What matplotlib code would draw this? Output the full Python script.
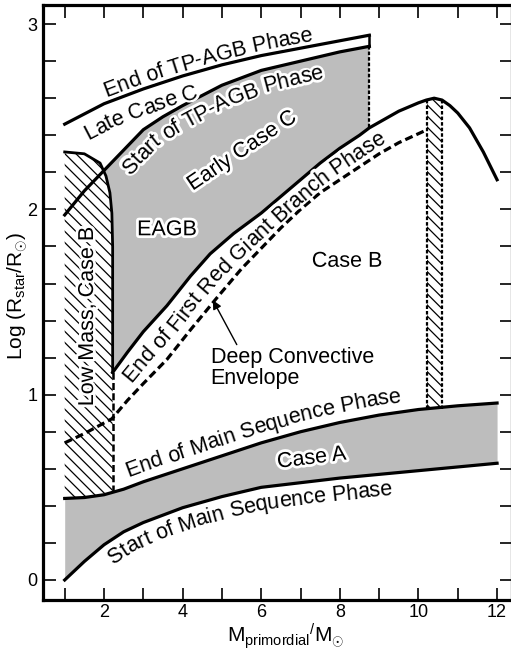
import numpy as np
import matplotlib.pyplot as plt
import matplotlib.patheffects as pe
from matplotlib.font_manager import FontProperties

plt.rcParams['font.family'] = ['Liberation Sans', 'DejaVu Sans']
plt.rcParams['mathtext.fontset'] = 'custom'
plt.rcParams['mathtext.rm'] = 'Liberation Sans'
plt.rcParams['mathtext.it'] = 'Liberation Sans:italic'
plt.rcParams['hatch.linewidth'] = 0.9

# --- curves (x = M/Msun, y = log R/Rsun) ---
tp_end_x = [1.0, 2.0, 3.0, 4.0, 5.0, 6.0, 7.0, 8.0, 8.75]
tp_end_y = [2.46, 2.57, 2.65, 2.72, 2.78, 2.83, 2.87, 2.91, 2.94]

tp_start_x = [1.0, 1.5, 2.0, 2.5, 3.0, 3.5, 4.0, 5.0, 6.0, 7.0, 8.0, 8.75]
tp_start_y = [1.97, 2.10, 2.21, 2.32, 2.43, 2.50, 2.56, 2.67, 2.75, 2.80, 2.85, 2.88]

# end of first red giant branch
rgb_x = [2.22, 2.6, 3.0, 3.6, 4.2, 4.7, 5.3, 6.0, 6.5, 7.0, 7.5, 8.0, 8.5, 8.75,
         9.0, 9.5, 10.0, 10.2, 10.4, 10.6, 10.8, 11.0, 11.3, 11.65, 12.0]
rgb_y = [1.12, 1.23, 1.34, 1.48, 1.64, 1.76, 1.87, 1.98, 2.07, 2.16, 2.25, 2.33, 2.40, 2.44,
         2.47, 2.53, 2.575, 2.59, 2.60, 2.59, 2.56, 2.52, 2.44, 2.31, 2.16]

# deep convective envelope (dashed)
dce_x = [1.0, 1.5, 2.2, 2.6, 3.0, 3.6, 4.2, 4.9, 5.5, 6.0, 6.5, 7.0, 7.5, 8.0, 8.5, 9.0, 9.5, 10.22]
dce_y = [0.74, 0.79, 0.87, 0.97, 1.06, 1.19, 1.35, 1.53, 1.68, 1.79, 1.90, 2.00, 2.09, 2.16, 2.23, 2.30, 2.36, 2.43]

# boundary of the low mass case B region
lm_x = [1.0, 1.5, 1.9, 2.05, 2.15, 2.2, 2.22, 2.22]
lm_y = [2.31, 2.30, 2.25, 2.18, 2.09, 1.98, 1.80, 1.12]

# main sequence
ms_x = [1.0, 1.5, 2.0, 2.5, 3.0, 4.0, 5.0, 6.0, 7.0, 8.0, 9.0, 10.0, 11.0, 12.0]
ms_end_y = [0.44, 0.445, 0.46, 0.49, 0.53, 0.60, 0.67, 0.74, 0.80, 0.85, 0.89, 0.92, 0.94, 0.955]
ms_start_y = [0.0, 0.10, 0.19, 0.26, 0.31, 0.39, 0.45, 0.50, 0.525, 0.55, 0.57, 0.59, 0.61, 0.63]

# hatched band near 10.4 Msun
band_x = [10.22, 10.6]
band_top = 2.59

shade = '#bdbdbd'
lw = 2.3
fs = 15.5
halo = [pe.withStroke(linewidth=4, foreground='white')]

fig = plt.figure(figsize=(5.11, 6.5), dpi=100)
ax = fig.add_axes([43 / 511, 50 / 650, 469 / 511, 595 / 650])
ax.set_xlim(0.448, 12.38)
ax.set_ylim(-0.108, 3.103)

# Case A shading
ax.fill_between(ms_x, ms_start_y, ms_end_y, color=shade, lw=0, zorder=1)

# early case C / EAGB shaded region
tsx, tsy = np.array(tp_start_x), np.array(tp_start_y)
rx, ry = np.array(rgb_x), np.array(rgb_y)
top = tsx >= 2.0
low = rx <= tp_start_x[-1]
poly_x = np.concatenate([tsx[top], rx[low][::-1], lm_x[::-1][1:5]])
poly_y = np.concatenate([tsy[top], ry[low][::-1], lm_y[::-1][1:5]])
ax.fill(poly_x, poly_y, color=shade, lw=0, zorder=1)

# low mass case B hatched region
ms_at_split = np.interp(lm_x[-1], ms_x, ms_end_y)
ms_left = np.array(ms_x) < lm_x[-1]
hx = np.concatenate([[lm_x[0]], lm_x, [lm_x[-1]], np.array(ms_x)[ms_left][::-1]])
hy = np.concatenate([[ms_end_y[0]], lm_y, [ms_at_split], np.array(ms_end_y)[ms_left][::-1]])
ax.fill(hx, hy, facecolor='white', edgecolor='black', hatch='\\\\\\', lw=0, zorder=1)

# hatched band
band_bottom = np.interp(band_x[0], ms_x, ms_end_y)
ax.fill_between(band_x, band_bottom, band_top, facecolor='white', edgecolor='black',
                hatch='\\\\\\', lw=0, zorder=1)
ax.vlines(band_x, band_bottom, band_top, colors='black', lw=1.6,
          linestyles=(0, (1.6, 0.9)), zorder=3)

# curves
ax.plot(tp_end_x, tp_end_y, color='black', lw=lw, zorder=4)
ax.plot(tp_start_x, tp_start_y, color='black', lw=lw, zorder=4)
ax.plot(rgb_x, rgb_y, color='black', lw=lw, zorder=4)
ax.plot(dce_x, dce_y, color='black', lw=lw, linestyle=(0, (2.5, 1.3)), zorder=4)
ax.plot(lm_x, lm_y, color='black', lw=2.0, zorder=4)
ax.plot(ms_x, ms_end_y, color='black', lw=lw, zorder=4)
ax.plot(ms_x, ms_start_y, color='black', lw=lw, zorder=4)

# vertical edges
ax.plot([tp_end_x[-1], tp_end_x[-1]], [tp_end_y[-1], tp_start_y[-1]], color='black', lw=1.8, zorder=4)
ax.plot([tp_start_x[-1], tp_start_x[-1]], [tp_start_y[-1], np.interp(tp_start_x[-1], rgb_x, rgb_y)],
        color='black', lw=1.6, linestyle=(0, (1.6, 0.9)), zorder=4)
ax.plot([lm_x[-1], lm_x[-1]], [ms_at_split, lm_y[-1]], color='black', lw=1.8,
        linestyle=(0, (2.8, 1.3)), zorder=4)

# --- labels set along the curves, one character at a time ---
renderer = fig.canvas.get_renderer()
prop = FontProperties(family=['Liberation Sans', 'DejaVu Sans'], size=fs)


def text_width(s):
    return renderer.get_text_width_height_descent(s, prop, ismath=False)[0]


def curve_text(s, gx, gy, x0, offset):
    pts = ax.transData.transform(np.column_stack([gx, gy]))
    d = np.gradient(pts, axis=0)
    a = np.arctan2(d[:, 1], d[:, 0])
    off = pts + offset * np.column_stack([-np.sin(a), np.cos(a)])
    arc = np.concatenate([[0], np.cumsum(np.hypot(np.diff(off[:, 0]), np.diff(off[:, 1])))])
    a0 = np.interp(x0, gx, arc)
    bar = text_width('|')
    inv = ax.transData.inverted()
    for i, ch in enumerate(s):
        if ch == ' ':
            continue
        left = text_width(s[:i] + '|') - bar if i else 0.0
        right = text_width(s[:i + 1] + '|') - bar
        c = a0 + 0.5 * (left + right)
        x1, y1 = np.interp(c - 8, arc, off[:, 0]), np.interp(c - 8, arc, off[:, 1])
        x2, y2 = np.interp(c + 8, arc, off[:, 0]), np.interp(c + 8, arc, off[:, 1])
        ang = np.degrees(np.arctan2(y2 - y1, x2 - x1))
        xd, yd = inv.transform((np.interp(c, arc, off[:, 0]), np.interp(c, arc, off[:, 1])))
        common = dict(fontproperties=prop, rotation=ang, ha='center', va='baseline',
                      rotation_mode='anchor')
        ax.text(xd, yd, ch, color='white', zorder=5.5,
                path_effects=[pe.Stroke(linewidth=4, foreground='white')], **common)
        ax.text(xd, yd, ch, color='black', zorder=6, **common)


curve_text('End of TP-AGB Phase', tp_end_x, tp_end_y, 2.12, 5)
curve_text('Late Case C', tp_end_x, tp_end_y, 1.31, -25)
curve_text('Start of TP-AGB Phase', tp_start_x, tp_start_y, 2.25, -22)

mid_mask = (rx >= 2.22) & (rx <= dce_x[-1])
mid_x = rx[mid_mask]
mid_y = 0.5 * (ry[mid_mask] + np.interp(mid_x, dce_x, dce_y))
curve_text('End of First Red Giant Branch Phase', mid_x, mid_y, 2.55, -7)

curve_text('End of Main Sequence Phase', ms_x, ms_end_y, 2.69, 10)
curve_text('Start of Main Sequence Phase', ms_x, ms_start_y, 1.9, -22)

kw = dict(fontsize=fs, ha='center', va='center', rotation_mode='anchor', path_effects=halo, zorder=6)
ax.text(5.51, 2.315, 'Early Case C', rotation=34, **kw)
ax.text(3.60, 1.89, 'EAGB', rotation=0, **kw)
ax.text(1.58, 1.42, 'Low Mass, Case B', rotation=90, **kw)
ax.text(8.18, 1.72, 'Case B', rotation=0, **kw)
ax.text(7.28, 0.657, 'Case A', rotation=7, **kw)

ax.annotate('Deep Convective\nEnvelope', xy=(4.77, 1.51), xytext=(4.71, 1.144),
            fontsize=fs, ha='left', va='center', linespacing=0.95, zorder=6,
            arrowprops=dict(arrowstyle='-|>', color='black', lw=1.0, mutation_scale=13,
                            shrinkA=0, shrinkB=0, relpos=(0.17, 1.0)))

# axes
ax.set_xticks(np.arange(2, 13, 2))
ax.set_xticks(np.arange(1, 13, 2), minor=True)
ax.set_yticks([0, 1, 2, 3])
ax.set_yticks(np.arange(0, 3.01, 0.2), minor=True)
ax.tick_params(which='both', direction='in', length=9, width=1.2, top=True, right=True,
               labelsize=13)
ax.tick_params(axis='x', pad=3)
ax.tick_params(axis='y', pad=4)
for s in ax.spines.values():
    s.set_linewidth(2.3)

ax.set_xlabel(r'M$_{\rm primordial}$$^{/}$M$_{\odot}$', fontsize=15, va='center')
ax.xaxis.set_label_coords(0.518, -0.06)
ax.set_ylabel(r'Log (R$_{\rm star}$/R$_{\odot}$)', fontsize=15, va='center')
ax.yaxis.set_label_coords(-0.0533, 0.511)

fig.savefig('out.png', dpi=100)
